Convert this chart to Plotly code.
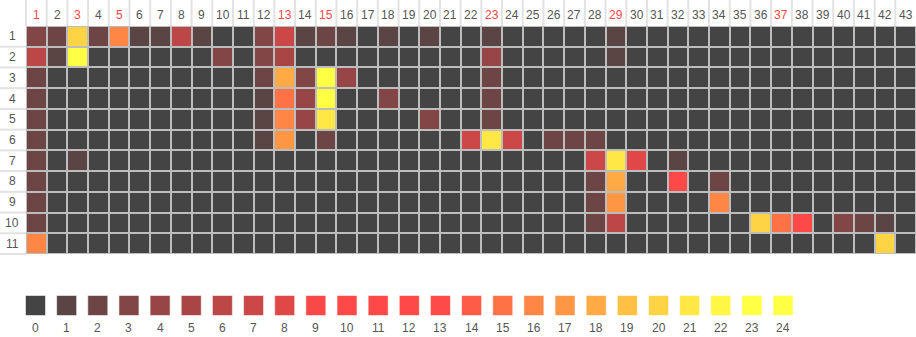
import plotly.graph_objects as go

# ---- data ----
columns = list(range(1, 44))
rows = list(range(1, 12))
highlight_cols = [1, 3, 5, 13, 15, 23, 29, 37]
levels = list(range(0, 25))
level_colors = [
    "#444444", "#5a4444", "#6e4545", "#834646", "#964646",
    "#a84646", "#bb4747", "#cc4747", "#e04848", "#f84848",
    "#ff4848", "#ff4848", "#ff4848", "#ff4b48", "#ff5c48",
    "#ff7246", "#ff8644", "#ff9644", "#ffaa44", "#ffc044",
    "#ffd444", "#ffe844", "#fff744", "#ffff44", "#ffff44",
]

r1 = [3, 2, 20, 2, 16, 1, 1, 6, 1, 0, 0, 3, 7, 1, 2, 1, 0, 1, 0, 1, 0, 0, 1, 0, 0, 0, 0, 0, 1, 0, 0, 0, 0, 0, 0, 0, 0, 0, 0, 0, 0, 0, 0]
r2 = [6, 1, 23, 0, 0, 0, 0, 0, 0, 3, 0, 3, 5, 0, 0, 0, 0, 0, 0, 0, 0, 0, 4, 0, 0, 0, 0, 0, 1, 0, 0, 0, 0, 0, 0, 0, 0, 0, 0, 0, 0, 0, 0]
r3 = [2, 0, 0, 0, 0, 0, 0, 0, 0, 0, 0, 2, 18, 3, 23, 4, 0, 0, 0, 0, 0, 0, 2, 0, 0, 0, 0, 0, 0, 0, 0, 0, 0, 0, 0, 0, 0, 0, 0, 0, 0, 0, 0]
r4 = [2, 0, 0, 0, 0, 0, 0, 0, 0, 0, 0, 1, 15, 4, 23, 0, 0, 3, 0, 0, 0, 0, 2, 0, 0, 0, 0, 0, 0, 0, 0, 0, 0, 0, 0, 0, 0, 0, 0, 0, 0, 0, 0]
r5 = [2, 0, 0, 0, 0, 0, 0, 0, 0, 0, 0, 1, 16, 4, 21, 0, 0, 0, 0, 3, 0, 0, 2, 0, 0, 0, 0, 0, 0, 0, 0, 0, 0, 0, 0, 0, 0, 0, 0, 0, 0, 0, 0]
r6 = [2, 0, 0, 0, 0, 0, 0, 0, 0, 0, 0, 1, 17, 0, 2, 0, 0, 0, 0, 0, 0, 7, 21, 7, 0, 2, 2, 2, 0, 0, 0, 0, 0, 0, 0, 0, 0, 0, 0, 0, 0, 0, 0]
r7 = [2, 0, 1, 0, 0, 0, 0, 0, 0, 0, 0, 0, 0, 0, 0, 0, 0, 0, 0, 0, 0, 0, 0, 0, 0, 0, 0, 7, 21, 8, 0, 1, 0, 0, 0, 0, 0, 0, 0, 0, 0, 0, 0]
r8 = [2, 0, 0, 0, 0, 0, 0, 0, 0, 0, 0, 0, 0, 0, 0, 0, 0, 0, 0, 0, 0, 0, 0, 0, 0, 0, 0, 2, 18, 0, 0, 10, 0, 2, 0, 0, 0, 0, 0, 0, 0, 0, 0]
r9 = [2, 0, 0, 0, 0, 0, 0, 0, 0, 0, 0, 0, 0, 0, 0, 0, 0, 0, 0, 0, 0, 0, 0, 0, 0, 0, 0, 2, 17, 0, 0, 0, 0, 16, 0, 0, 0, 0, 0, 0, 0, 0, 0]
r10 = [2, 0, 0, 0, 0, 0, 0, 0, 0, 0, 0, 0, 0, 0, 0, 0, 0, 0, 0, 0, 0, 0, 0, 0, 0, 0, 0, 2, 6, 0, 0, 0, 0, 0, 0, 20, 15, 10, 0, 3, 2, 1, 0]
r11 = [16, 0, 0, 0, 0, 0, 0, 0, 0, 0, 0, 0, 0, 0, 0, 0, 0, 0, 0, 0, 0, 0, 0, 0, 0, 0, 0, 0, 0, 0, 0, 0, 0, 0, 0, 0, 0, 0, 0, 0, 0, 20, 0]

z = [r1, r2, r3, r4, r5, r6, r7, r8, r9, r10, r11]

# ---- styling ----
W, H = 916, 337
LEFT, TOP, BOTTOM = 26, 26, 254
FONT = "Liberation Sans"
TEXT_COLOR = "#555555"
HL_COLOR = "#ff4444"
GRID_COLOR = "#bdbdbd"
SEP_COLOR = "#e2e2e2"

n = len(level_colors)
colorscale = []
for i, c in enumerate(level_colors):
    colorscale.append([i / n, c])
    colorscale.append([(i + 1) / n, c])

fig = go.Figure()
fig.add_trace(go.Heatmap(
    z=z, x=columns, y=rows,
    zmin=-0.5, zmax=n - 0.5,
    colorscale=colorscale, showscale=False,
    xgap=2, ygap=2, hoverinfo="skip",
    xaxis="x", yaxis="y",
))

# legend swatches
fig.add_trace(go.Scatter(
    x=levels, y=[0] * len(levels), mode="markers",
    marker=dict(symbol="square", size=20, color=level_colors,
                line=dict(width=1, color="rgba(255,255,255,0.55)")),
    xaxis="x2", yaxis="y2", hoverinfo="skip", showlegend=False,
))

ann = []
for c in columns:
    ann.append(dict(
        x=c, xref="x", y=1, yref="y domain", yshift=11,
        text=str(c), showarrow=False, xanchor="center", yanchor="middle",
        font=dict(family=FONT, size=12,
                  color=HL_COLOR if c in highlight_cols else TEXT_COLOR),
    ))
for r in rows:
    ann.append(dict(
        x=0, xref="x domain", xshift=-14, y=r, yref="y",
        text=str(r), showarrow=False, xanchor="center", yanchor="middle",
        font=dict(family=FONT, size=12, color=TEXT_COLOR),
    ))
for lv in levels:
    ann.append(dict(
        x=lv, xref="x2", y=0, yref="y2", yshift=-22,
        text=str(lv), showarrow=False, xanchor="center", yanchor="middle",
        font=dict(family=FONT, size=12, color=TEXT_COLOR),
    ))

shapes = [dict(type="rect", xref="x domain", yref="y domain",
               x0=0, x1=1, y0=0, y1=1, layer="below",
               fillcolor=GRID_COLOR, line=dict(width=0))]
ncol, nrow = len(columns), len(rows)
hdr = (TOP) / (BOTTOM - TOP)
for k in range(ncol):
    shapes.append(dict(type="line", xref="x domain", yref="y domain",
                       x0=k / ncol, x1=k / ncol, y0=1, y1=1 + hdr,
                       line=dict(color=SEP_COLOR, width=2)))
lw = LEFT / (W - LEFT)
for k in range(nrow):
    shapes.append(dict(type="line", xref="x domain", yref="y domain",
                       x0=-lw, x1=0, y0=k / nrow, y1=k / nrow,
                       line=dict(color=SEP_COLOR, width=2)))

spacing = 31.15
first_center = 35.5
fig.update_layout(
    width=W, height=H,
    margin=dict(l=0, r=0, t=0, b=0),
    paper_bgcolor="white",
    plot_bgcolor="white",
    showlegend=False,
    xaxis=dict(domain=[LEFT / W, 1], range=[0.5, ncol + 0.5],
               showticklabels=False, showgrid=False, zeroline=False, ticks=""),
    yaxis=dict(domain=[(H - BOTTOM) / H, (H - TOP) / H],
               range=[nrow + 0.5, 0.5],
               showticklabels=False, showgrid=False, zeroline=False, ticks=""),
    xaxis2=dict(domain=[0, 1], anchor="y2",
                range=[-first_center / spacing, (W - first_center) / spacing],
                visible=False),
    yaxis2=dict(domain=[0, 0.2], anchor="x2", range=[-1, 1.14], visible=False),
    annotations=ann,
    shapes=shapes,
)

fig.write_html("out.html", config={"displayModeBar": False})
